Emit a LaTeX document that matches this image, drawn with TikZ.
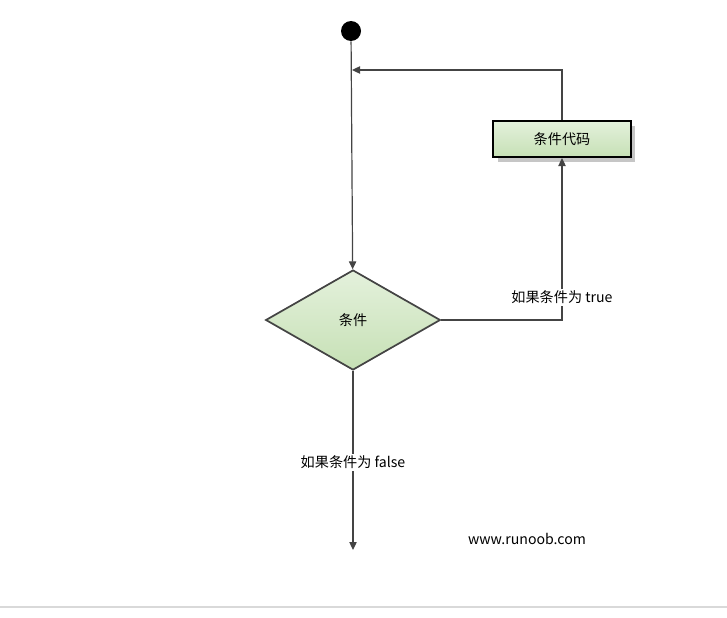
\documentclass[tikz,border=0pt]{standalone}
\usepackage{fontspec}
\setmainfont{Noto Sans CJK SC}
\usetikzlibrary{shapes.geometric, arrows.meta, shadows}
\definecolor{palegreen}{HTML}{E4F1DC}
\definecolor{leafgreen}{HTML}{C6E0B5}
\definecolor{linegray}{HTML}{444444}
\tikzset{
  start/.style   = {circle, fill=black, minimum size=15pt, inner sep=0pt},
  codebox/.style = {draw=black, line width=1.5pt, top color=palegreen, bottom color=leafgreen,
                    minimum width=103pt, minimum height=27pt, inner sep=0pt,
                    drop shadow={shadow xshift=3.5pt, shadow yshift=-3.5pt, fill=gray!45, opacity=1}},
  decision/.style= {draw=linegray, diamond, line width=1.3pt, top color=palegreen, bottom color=leafgreen,
                    minimum width=131pt, minimum height=75pt, inner sep=0pt},
  flow/.style    = {-{Triangle[length=6pt, width=5.5pt]}, line width=0.9pt, draw=linegray},
  tag/.style     = {fill=white, inner sep=1.5pt}
}
\begin{document}
\begin{tikzpicture}[x=0.75pt, y=-0.75pt, font=\fontsize{10.6}{12}\selectfont]
\useasboundingbox (0,0) rectangle (727,617);
\node[start] (start) at (351,31) {};
\node[codebox] (code) at (562,139) {条件代码};
\node[decision] (cond) at (353,320) {条件};
\coordinate (join) at (352,70);
\coordinate (exit) at (353,550);
\draw[flow] (start) -- (cond);
\draw[flow] (code.north) |- (join);
\draw[flow] (cond.east) -| node[tag, pos=0.57] {如果条件为 true} (code.south);
\draw[flow] (cond.south) -- node[tag, pos=0.51] {如果条件为 false} (exit);
\node (site) at (527,539) {www.runoob.com};
\draw[gray!30, line width=1pt] (0,607) -- (727,607);
\end{tikzpicture}
\end{document}
